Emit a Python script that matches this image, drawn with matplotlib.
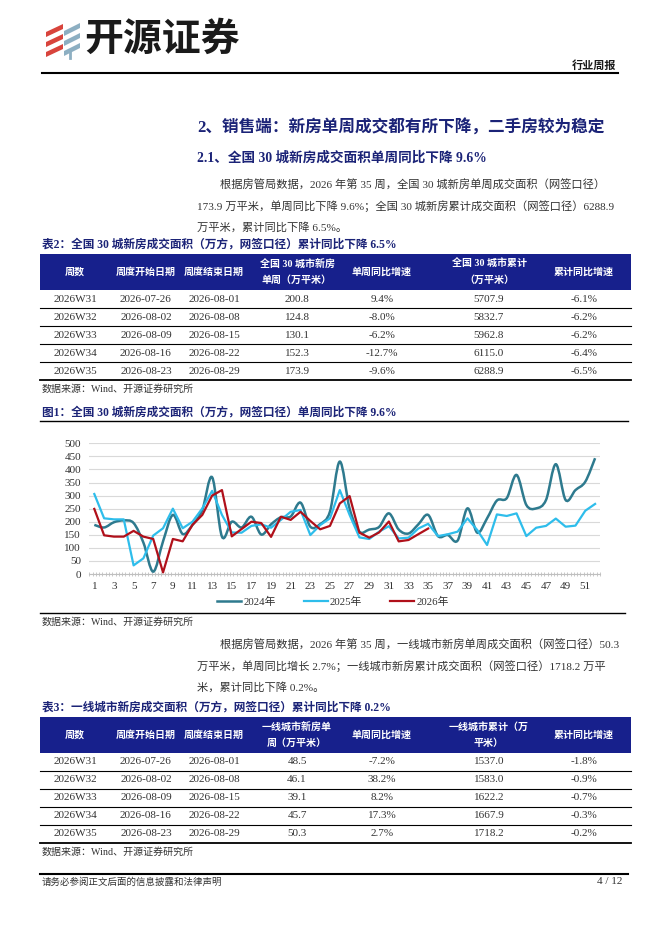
import numpy as np
import matplotlib
matplotlib.use("Agg")
import matplotlib.pyplot as plt
from matplotlib.path import Path
from matplotlib.patches import PathPatch, Rectangle, Polygon

plt.rcParams["font.family"] = ["Liberation Serif", "Noto Sans CJK SC", "DejaVu Sans"]

# ---- chart data: weekly new-home sales area, 30 cities (10k m2)
weeks = list(range(1, 53))
area_2024 = [188, 178, 198, 205, 195, 120, 9, 125, 226, 153,
             188, 245, 370, 143, 200, 178, 219, 151, 190, 217,
             220, 273, 181, 191, 239, 430, 250, 162, 170, 180,
             232, 170, 155, 190, 226, 145, 149, 128, 251, 158,
             213, 281, 290, 379, 264, 251, 283, 420, 283, 321,
             353, 443]
area_2025 = [306, 213, 209, 209, 33, 60, 147, 175, 250, 175,
             200, 251, 318, 226, 159, 158, 184, 190, 177, 207,
             238, 245, 149, 187, 213, 321, 226, 140, 134, 162,
             183, 136, 139, 174, 192, 145, 152, 162, 213, 168,
             111, 228, 222, 232, 145, 177, 184, 212, 181, 185,
             242, 268]
area_2026 = [249, 148, 143, 143, 165, 143, 134, 6, 134, 125,
             188, 226, 300, 321, 144, 172, 200, 195, 142, 219,
             207, 238, 203, 171, 184, 270, 298, 158, 139, 159,
             200.8, 124.8, 130.1, 152.3, 173.9]
series_labels = ["2024年", "2025年", "2026年"]

# ---- table 2: 30 cities
t2_week = ["2026W31", "2026W32", "2026W33", "2026W34", "2026W35"]
t2_start = ["2026-07-26", "2026-08-02", "2026-08-09", "2026-08-16", "2026-08-23"]
t2_end = ["2026-08-01", "2026-08-08", "2026-08-15", "2026-08-22", "2026-08-29"]
t2_single = ["200.8", "124.8", "130.1", "152.3", "173.9"]
t2_single_yoy = ["9.4%", "-8.0%", "-6.2%", "-12.7%", "-9.6%"]
t2_cum = ["5707.9", "5832.7", "5962.8", "6115.0", "6288.9"]
t2_cum_yoy = ["-6.1%", "-6.2%", "-6.2%", "-6.4%", "-6.5%"]
t2_headers = ["周数", "周度开始日期", "周度结束日期", "全国 30 城市新房\n单周（万平米）",
              "单周同比增速", "全国 30 城市累计\n（万平米）", "累计同比增速"]

# ---- table 3: tier-1 cities
t3_single = ["48.5", "46.1", "39.1", "45.7", "50.3"]
t3_single_yoy = ["-7.2%", "38.2%", "8.2%", "17.3%", "2.7%"]
t3_cum = ["1537.0", "1583.0", "1622.2", "1667.9", "1718.2"]
t3_cum_yoy = ["-1.8%", "-0.9%", "-0.7%", "-0.3%", "-0.2%"]
t3_headers = ["周数", "周度开始日期", "周度结束日期", "一线城市新房单\n周（万平米）",
              "单周同比增速", "一线城市累计（万\n平米）", "累计同比增速"]

NAVY_TXT = "#1B2377"
NAVY_FILL = "#17208C"
BODY = "#333333"
C2024, C2025, C2026 = "#2E7A8E", "#2EBDEB", "#B0101A"

fig = plt.figure(figsize=(6.62, 9.36), dpi=100)
bg = fig.add_axes([0, 0, 1, 1])
bg.set_xlim(0, 662)
bg.set_ylim(936, 0)
bg.axis("off")

# logo
for i in range(3):
    y0 = 24 + i * 10
    bg.add_patch(Polygon([(46, y0 + 8), (63, y0), (63, y0 + 5), (46, y0 + 13)],
                         closed=True, color="#D8443C", lw=0))
    bg.add_patch(Polygon([(64, y0 + 7), (80, y0 - 1), (80, y0 + 4), (64, y0 + 12)],
                         closed=True, color="#8DAFC2", lw=0))
bg.plot([70, 70], [50, 58], color="#8DAFC2", lw=2)
bg.text(84, 41, "开源证券", fontsize=28, fontweight="bold", color="#1A1A1A",
        va="center", ha="left")
bg.text(616, 66, "行业周报", fontsize=8, fontweight="bold", color="#1A1A1A",
        va="center", ha="right")
bg.plot([42, 618], [73, 73], color="black", lw=1.5)

# headings and paragraph
bg.text(197, 127, "2、销售端：新房单周成交都有所下降，二手房较为稳定", fontsize=12,
        fontweight="bold", color=NAVY_TXT, va="center")
bg.text(197, 158, "2.1、全国 30 城新房成交面积单周同比下降 9.6%", fontsize=9.8,
        fontweight="bold", color=NAVY_TXT, va="center")
para1 = ["根据房管局数据，2026 年第 35 周，全国 30 城新房单周成交面积（网签口径）",
         "173.9 万平米，单周同比下降 9.6%；全国 30 城新房累计成交面积（网签口径）6288.9",
         "万平米，累计同比下降 6.5%。"]
for k, line in enumerate(para1):
    bg.text(220 if k == 0 else 197, 185 + k * 21, line, fontsize=8.1, color=BODY, va="center")


def draw_table(title, top, headers, cols):
    bg.text(42, top - 9, title, fontsize=8.4, fontweight="bold", color=NAVY_TXT, va="center")
    xs = [75, 146, 214, 297, 382, 489, 584]
    bg.add_patch(Rectangle((40, top), 591, 36, color=NAVY_FILL, lw=0))
    for x, h in zip(xs, headers):
        bg.text(x, top + 18, h, fontsize=7.2, fontweight="bold", color="white",
                ha="center", va="center", linespacing=1.9)
    for r in range(5):
        yc = top + 36 + 9 + r * 18
        for x, col in zip(xs, cols):
            bg.text(x, yc, col[r], fontsize=8, color=BODY, ha="center", va="center")
        bg.plot([40, 631], [top + 36 + 18 * (r + 1)] * 2, color="black",
                lw=1.3 if r == 4 else 0.8)
    bg.text(42, top + 36 + 90 + 9, "数据来源：Wind、开源证券研究所", fontsize=7.2, color=BODY, va="center")


draw_table("表2：全国 30 城新房成交面积（万方，网签口径）累计同比下降 6.5%", 254, t2_headers,
           [t2_week, t2_start, t2_end, t2_single, t2_single_yoy, t2_cum, t2_cum_yoy])

# figure 1 frame
bg.text(42, 413, "图1：全国 30 城新房成交面积（万方，网签口径）单周同比下降 9.6%", fontsize=8.4,
        fontweight="bold", color=NAVY_TXT, va="center")
bg.plot([40, 628], [421, 421], color="black", lw=1.0)
bg.plot([40, 625], [613, 613], color="black", lw=1.0)
bg.text(42, 622, "数据来源：Wind、开源证券研究所", fontsize=7.2, color=BODY, va="center")

# second paragraph and table 3
para2 = ["根据房管局数据，2026 年第 35 周，一线城市新房单周成交面积（网签口径）50.3",
         "万平米，单周同比增长 2.7%；一线城市新房累计成交面积（网签口径）1718.2 万平",
         "米，累计同比下降 0.2%。"]
for k, line in enumerate(para2):
    bg.text(220 if k == 0 else 197, 645 + k * 21, line, fontsize=8.1, color=BODY, va="center")

draw_table("表3：一线城市新房成交面积（万方，网签口径）累计同比下降 0.2%", 717, t3_headers,
           [t2_week, t2_start, t2_end, t3_single, t3_single_yoy, t3_cum, t3_cum_yoy])

# footer
bg.plot([40, 628], [874, 874], color="black", lw=1.5)
bg.text(42, 882, "请务必参阅正文后面的信息披露和法律声明", fontsize=6.8, color=BODY, va="center")
bg.text(622, 882, "4 / 12", fontsize=8, color=BODY, va="center", ha="right")

# ---- the line chart
ax = fig.add_axes([89.4 / 662, 1 - 574 / 936, 510.6 / 662, 130.7 / 936])


def smooth_path(x, y):
    # Catmull-Rom style bezier through every point (Excel "smoothed line")
    verts = [(x[0], y[0])]
    codes = [Path.MOVETO]
    n = len(x)
    for i in range(n - 1):
        p0 = max(i - 1, 0)
        p3 = min(i + 2, n - 1)
        c1 = (x[i] + (x[i + 1] - x[p0]) / 6, y[i] + (y[i + 1] - y[p0]) / 6)
        c2 = (x[i + 1] - (x[p3] - x[i]) / 6, y[i + 1] - (y[p3] - y[i]) / 6)
        verts += [c1, c2, (x[i + 1], y[i + 1])]
        codes += [Path.CURVE4] * 3
    return Path(verts, codes)


ax.add_patch(PathPatch(smooth_path(weeks, area_2024), fill=False, ec=C2024, lw=1.8, zorder=3))
ax.plot([], [], color=C2024, lw=1.8, label=series_labels[0])
ax.plot(weeks, area_2025, color=C2025, lw=1.6, label=series_labels[1], zorder=3)
ax.plot(weeks[:len(area_2026)], area_2026, color=C2026, lw=1.6, label=series_labels[2], zorder=4)

ax.set_xlim(0.5, 52.5)
ax.set_ylim(0, 500)
ax.set_yticks(range(0, 501, 50))
ax.set_xticks(range(1, 53, 2))
ax.set_xticks(np.arange(0.5, 52.6, 1 / 3), minor=True)
ax.grid(axis="y", color="#D9D9D9", lw=0.8)
ax.set_axisbelow(True)
for s in ["top", "right", "left"]:
    ax.spines[s].set_visible(False)
ax.spines["bottom"].set_color("#BFBFBF")
ax.tick_params(axis="y", length=0, pad=6, labelsize=8, labelcolor=BODY)
ax.tick_params(axis="x", which="major", length=0, pad=6, labelsize=8, labelcolor=BODY)
ax.tick_params(axis="x", which="minor", length=3, direction="inout", color="#BFBFBF")
ax.legend(loc="center", bbox_to_anchor=(0.477, -0.215), ncol=3, frameon=False,
          fontsize=7.8, handlelength=2.2, handletextpad=0.2, columnspacing=2.6,
          labelcolor=BODY)

fig.savefig("out.png", dpi=100)
